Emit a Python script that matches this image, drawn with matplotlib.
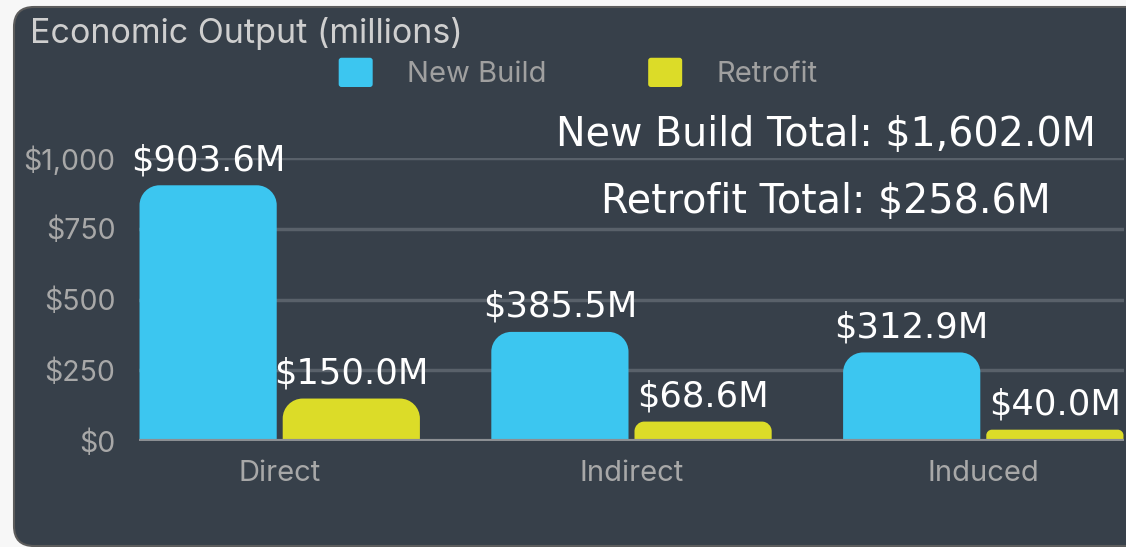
import matplotlib
matplotlib.use("Agg")
import matplotlib.pyplot as plt
import numpy as np
from matplotlib.patches import FancyBboxPatch, PathPatch, Patch
from matplotlib.path import Path
from matplotlib.legend_handler import HandlerPatch

# ---------------- data ----------------
categories = ["Direct", "Indirect", "Induced"]
new_build = [903.6, 385.5, 312.9]
retrofit = [150.0, 68.6, 40.0]
series_names = ["New Build", "Retrofit"]
y_ticks = [0, 250, 500, 750, 1000]
title = "Economic Output (millions)"

# ---------------- style ----------------
BG_OUT = "#f7f7f7"
PANEL = "#37404a"
BLUE = "#3cc6f0"
YELLOW = "#dcdc28"
GRID = "#59616a"
BASE = "#8c8f93"
GRAY_TXT = "#a8a8a8"
LABEL_FONT = "DejaVu Sans"
UI_FONT = "Inter"

W, H = 1126, 547
fig = plt.figure(figsize=(W / 100, H / 100), dpi=100, facecolor=BG_OUT)

# rounded dark panel
panel = FancyBboxPatch((0.14, 0.01), 11.6, 5.39,
                       boxstyle="round,pad=0,rounding_size=0.2",
                       transform=fig.dpi_scale_trans, facecolor=PANEL,
                       edgecolor="#5c5c5c", lw=1.5, zorder=-10)
fig.patches.append(panel)

ax = fig.add_axes([139 / W, (H - 441) / H, (1124 - 139) / W, (441 - 158) / H])
ax.set_zorder(1)
ax.set_facecolor("none")
for s in ax.spines.values():
    s.set_visible(False)
ax.set_xlim(-0.4, 2.4)
ax.set_ylim(0, 1000)
ax.set_yticks(y_ticks)
ax.set_yticklabels([f"${v:,.0f}" for v in y_ticks])
ax.yaxis.grid(True, color=GRID, lw=2.5)
ax.set_axisbelow(True)
ax.tick_params(axis="y", length=0, pad=17, labelsize=20.5, labelcolor=GRAY_TXT)
ax.set_xticks(range(len(categories)))
ax.set_xticklabels(categories)
ax.tick_params(axis="x", length=0, pad=14, labelsize=21, labelcolor=GRAY_TXT)
for lab in ax.get_xticklabels() + ax.get_yticklabels():
    lab.set_fontfamily(UI_FONT)

x = np.arange(len(categories))
bw = 0.39
off = 0.2035
b1 = ax.bar(x - off, new_build, width=bw, color=BLUE)
b2 = ax.bar(x + off, retrofit, width=bw, color=YELLOW)

fig.canvas.draw()
p0 = ax.transData.transform((0, 0))
p1 = ax.transData.transform((1, 1))
ppx = p1[0] - p0[0]   # pixels per x unit
ppy = p1[1] - p0[1]   # pixels per y unit


def rounded_top(rect, r_px=20):
    x0, y0 = rect.get_x(), rect.get_y()
    w, h = rect.get_width(), rect.get_height()
    x1, y1 = x0 + w, y0 + h
    r = min(r_px, h * ppy / 2, w * ppx / 2)
    rx, ry = r / ppx, r / ppy
    k = 0.5523
    verts = [(x0, y0), (x0, y1 - ry),
             (x0, y1 - ry + k * ry), (x0 + rx - k * rx, y1), (x0 + rx, y1),
             (x1 - rx, y1),
             (x1 - rx + k * rx, y1), (x1, y1 - ry + k * ry), (x1, y1 - ry),
             (x1, y0), (x0, y0)]
    codes = [Path.MOVETO, Path.LINETO,
             Path.CURVE4, Path.CURVE4, Path.CURVE4,
             Path.LINETO,
             Path.CURVE4, Path.CURVE4, Path.CURVE4,
             Path.LINETO, Path.CLOSEPOLY]
    pp = PathPatch(Path(verts, codes), facecolor=rect.get_facecolor(),
                   edgecolor="none", zorder=2)
    ax.add_patch(pp)
    rect.set_visible(False)


for cont in (b1, b2):
    for rect in cont:
        rounded_top(rect)

ax.axhline(0, color=BASE, lw=3, zorder=3)

for cont, vals in ((b1, new_build), (b2, retrofit)):
    for rect, v in zip(cont, vals):
        ax.annotate(f"${v:,.1f}M", (rect.get_x() + rect.get_width() / 2, v),
                    xytext=(0, 11), textcoords="offset points",
                    ha="center", va="baseline", fontsize=25.5,
                    color="white", family=LABEL_FONT, annotation_clip=False)

# title
fig.text(30 / W, 1 - 34 / H, title, ha="left", va="center", fontsize=24.5,
         color="#cfcfcf", family=UI_FONT)


# legend
def make_sq(legend, orig_handle, xdescent, ydescent, width, height, fontsize):
    return FancyBboxPatch((-xdescent, -ydescent), width, height,
                          boxstyle="round,pad=0,rounding_size=2")


handles = [Patch(facecolor=BLUE), Patch(facecolor=YELLOW)]
fs = 21
fpx = fs * 100 / 72
leg = fig.legend(handles, series_names, loc="center",
                 bbox_to_anchor=(578 / W, 1 - 73 / H), ncol=2, frameon=False,
                 handlelength=34 / fpx, handleheight=34 / fpx,
                 handletextpad=34 / fpx, columnspacing=102 / fpx,
                 borderpad=0, labelcolor="#a0a0a0", prop={"family": UI_FONT, "size": fs},
                 handler_map={Patch: HandlerPatch(patch_func=make_sq)})

# totals
fig.text(826 / W, 1 - 135 / H, f"New Build Total: ${sum(new_build):,.1f}M",
         ha="center", va="center", fontsize=28.5, color="white", family=LABEL_FONT)
fig.text(826 / W, 1 - 202 / H, f"Retrofit Total: ${sum(retrofit):,.1f}M",
         ha="center", va="center", fontsize=28.5, color="white", family=LABEL_FONT)

fig.savefig("out.png", dpi=100, facecolor=BG_OUT)
